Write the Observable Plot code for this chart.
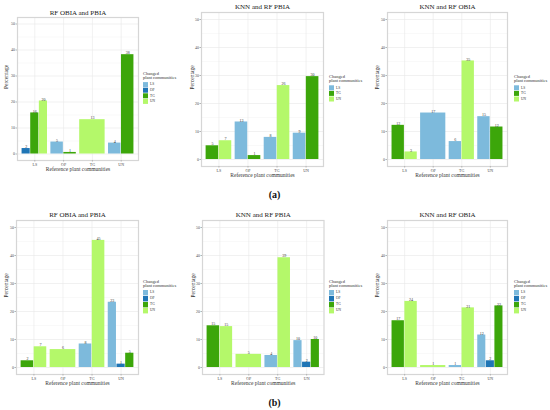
<!DOCTYPE html>
<html><head><meta charset="utf-8">
<script src="https://cdn.jsdelivr.net/npm/d3@7"></script>
<script src="https://cdn.jsdelivr.net/npm/@observablehq/plot@0.6"></script>
<style>
body{margin:0;background:#fff;}
#wrap{position:relative;width:550px;height:410px;overflow:hidden;font-family:"Liberation Serif",serif;background:#fff;}
.panel{position:absolute;}
.lab{position:absolute;font-weight:bold;font-size:10px;transform:translate(-50%,-50%);color:#111;white-space:nowrap;}
</style></head><body><div id="wrap"></div>
<script>
const categories = ["LS","OP","TG","UN"];
const groups = ["LS","OP","TG","UN"];
const groupColors = ["#7dbadc","#1f75b5","#3ca60a","#b4f86a"];
const yTicks = [0,10,20,30,40,50];
const yMinor = [5,15,25,35,45];
const titles = ["RF OBIA and PBIA","KNN and RF PBIA","KNN and RF OBIA","RF OBIA and PBIA","KNN and RF PBIA","KNN and RF OBIA"];

const a1Category = ["LS","LS","LS","OP","OP","TG","UN","UN"];
const a1Group    = ["OP","TG","UN","LS","TG","UN","LS","TG"];
const a1Value    = [2.1,15.8,20.4,4.6,0.6,13.2,4.2,38.2];
const a1Legend   = ["LS","OP","TG","UN"];

const a2Category = ["LS","LS","OP","OP","TG","TG","UN","UN"];
const a2Group    = ["TG","UN","LS","TG","LS","UN","LS","TG"];
const a2Value    = [4.9,6.7,13.4,1.4,7.9,26.4,9.4,29.6];
const a2Legend   = ["LS","TG","UN"];

const a3Category = ["LS","LS","OP","TG","TG","UN","UN"];
const a3Group    = ["TG","UN","LS","LS","UN","LS","TG"];
const a3Value    = [12.2,2.7,16.6,6.4,35.2,15.3,11.6];
const a3Legend   = ["LS","TG","UN"];

const b1Category = ["LS","LS","OP","TG","TG","UN","UN","UN"];
const b1Group    = ["TG","UN","UN","LS","UN","LS","OP","TG"];
const b1Value    = [2.4,7.4,6.4,8.4,45.4,23.3,1.2,5.1];
const b1Legend   = ["LS","OP","TG","UN"];

const b2Category = ["LS","LS","OP","TG","TG","UN","UN","UN"];
const b2Group    = ["TG","UN","UN","LS","UN","LS","OP","TG"];
const b2Value    = [14.9,14.6,4.7,4.3,39.2,9.6,1.9,10.0];
const b2Legend   = ["LS","OP","TG","UN"];

const b3Category = ["LS","LS","OP","TG","TG","UN","UN","UN"];
const b3Group    = ["TG","UN","UN","LS","UN","LS","OP","TG"];
const b3Value    = [16.7,23.6,0.7,0.7,21.3,11.6,2.4,22.0];
const b3Legend   = ["LS","OP","TG","UN"];

const panels = [
  {category:a1Category, group:a1Group, value:a1Value, legend:a1Legend},
  {category:a2Category, group:a2Group, value:a2Value, legend:a2Legend},
  {category:a3Category, group:a3Group, value:a3Value, legend:a3Legend},
  {category:b1Category, group:b1Group, value:b1Value, legend:b1Legend},
  {category:b2Category, group:b2Group, value:b2Value, legend:b2Legend},
  {category:b3Category, group:b3Group, value:b3Value, legend:b3Legend}
];

// layout (pixel positions of each panel)
const layout = [
  {left:16.5, right:137.5, top:16.8, bottom:159.8, titleY:12.5, xTitleY:169, pctX:5,   legendX:143, pitch:5.6},
  {left:201,  right:323,   top:11.7, bottom:165.7, titleY:6,    xTitleY:174, pctX:192, legendX:329, pitch:5.6},
  {left:387,  right:507,   top:11.7, bottom:165.7, titleY:6,    xTitleY:174, pctX:377, legendX:514, pitch:5.6},
  {left:15.5, right:137.5, top:220,  bottom:374,   titleY:214,  xTitleY:383, pctX:5.5, legendX:143, pitch:6},
  {left:201.5,right:323,   top:220,  bottom:374,   titleY:214,  xTitleY:383, pctX:192, legendX:329, pitch:6},
  {left:387,  right:507,   top:220,  bottom:374,   titleY:214,  xTitleY:383, pctX:377, legendX:514, pitch:6}
];

const wrap = document.getElementById("wrap");
const mL = 20, mR = 4, mT = 20, mB = 20;
const textColor = "#4d4d4d";

panels.forEach((p, k) => {
  const L = layout[k];
  const plotW = L.right - L.left, plotH = L.bottom - L.top;
  const rows = p.category.map((c, i) => ({c, g: p.group[i], v: p.value[i]}));
  const count = d3.rollup(rows, v => v.length, d => d.c);
  const slot = new Map();
  rows.forEach(r => {
    const s = slot.get(r.c) || 0; slot.set(r.c, s + 1);
    const n = count.get(r.c);
    const ci = categories.indexOf(r.c) + 1;
    r.x1 = ci - 0.45 + s * 0.9 / n;
    r.x2 = r.x1 + 0.9 / n;
    r.xm = (r.x1 + r.x2) / 2;
  });
  const chart = Plot.plot({
    width: mL + plotW + mR, height: mT + plotH + mB,
    marginLeft: mL, marginRight: mR, marginTop: mT, marginBottom: mB,
    x: {domain: [0.4, 4.6]},
    y: {domain: [-2.5, 52.5]},
    color: {domain: groups, range: groupColors},
    style: "font-family:'Liberation Serif',serif;background:transparent;overflow:visible;",
    marks: [
      Plot.gridY(yMinor, {stroke: "#f1f1f1", strokeOpacity: 1, strokeWidth: 0.4}),
      Plot.gridY(yTicks, {stroke: "#e7e7e7", strokeOpacity: 1, strokeWidth: 0.6}),
      Plot.gridX([1,2,3,4], {stroke: "#e7e7e7", strokeOpacity: 1, strokeWidth: 0.6}),
      Plot.rectY(rows, {x1: "x1", x2: "x2", y1: 0, y2: "v", fill: "g", insetLeft: 0.25, insetRight: 0.25}),
      Plot.text(rows, {x: "xm", y: "v", text: d => String(Math.round(d.v)), fontSize: 4, lineAnchor: "bottom", dy: -0.3, fill: "#333"}),
      Plot.frame({stroke: "#d6d6d6", strokeWidth: 1.2}),
      Plot.axisX({ticks: [1,2,3,4], tickFormat: i => categories[i - 1], tickSize: 1.5, tickPadding: 1, fontSize: 4, label: null, stroke: "#b3b3b3", fill: textColor}),
      Plot.axisY({ticks: yTicks, tickSize: 1.5, tickPadding: 1, fontSize: 4, label: null, stroke: "#b3b3b3", fill: textColor}),
      Plot.text([titles[k]], {text: d => d, frameAnchor: "top", dy: L.titleY - L.top, fontSize: 7, fill: "#222", lineAnchor: "middle"}),
      Plot.text(["Reference plant communities"], {text: d => d, frameAnchor: "bottom", dy: L.xTitleY - L.bottom, fontSize: 5.5, fill: "#333", lineAnchor: "middle"}),
      Plot.text(["Percentage"], {text: d => d, frameAnchor: "left", dx: L.pctX - L.left, rotate: -90, fontSize: 5.5, fill: "#333", lineAnchor: "middle"})
    ]
  });
  chart.classList.add("panel");
  chart.style.position = "absolute";
  chart.style.left = (L.left - mL) + "px";
  chart.style.top = (L.top - mT) + "px";
  wrap.appendChild(chart);
});

// legends
const leg = d3.create("svg").attr("width", 550).attr("height", 410)
  .style("position", "absolute").style("left", 0).style("top", 0)
  .style("font-family", "'Liberation Serif',serif");
panels.forEach((p, k) => {
  const L = layout[k];
  const cy = (L.top + L.bottom) / 2;
  const n = p.legend.length;
  const h = 10 + n * L.pitch;
  const top = cy - h / 2;
  const g = leg.append("g");
  g.append("text").attr("x", L.legendX).attr("y", top + 2).attr("dominant-baseline", "middle")
    .attr("font-size", 4.5).attr("fill", "#333").text("Changed");
  g.append("text").attr("x", L.legendX).attr("y", top + 6).attr("dominant-baseline", "middle")
    .attr("font-size", 4.5).attr("fill", "#333").text("plant communities");
  p.legend.forEach((name, i) => {
    const y0 = top + 10 + i * L.pitch;
    g.append("rect").attr("x", L.legendX).attr("y", y0).attr("width", 5).attr("height", L.pitch - 0.6)
      .attr("fill", groupColors[groups.indexOf(name)]);
    g.append("text").attr("x", L.legendX + 7).attr("y", y0 + (L.pitch - 0.6) / 2).attr("dominant-baseline", "middle")
      .attr("font-size", 3.5).attr("fill", "#333").text(name);
  });
});
wrap.appendChild(leg.node());

const la = document.createElement("div"); la.className = "lab"; la.style.left = "274.5px"; la.style.top = "194px"; la.textContent = "(a)"; wrap.appendChild(la);
const lb = document.createElement("div"); lb.className = "lab"; lb.style.left = "274.5px"; lb.style.top = "402px"; lb.textContent = "(b)"; wrap.appendChild(lb);
</script></body></html>
